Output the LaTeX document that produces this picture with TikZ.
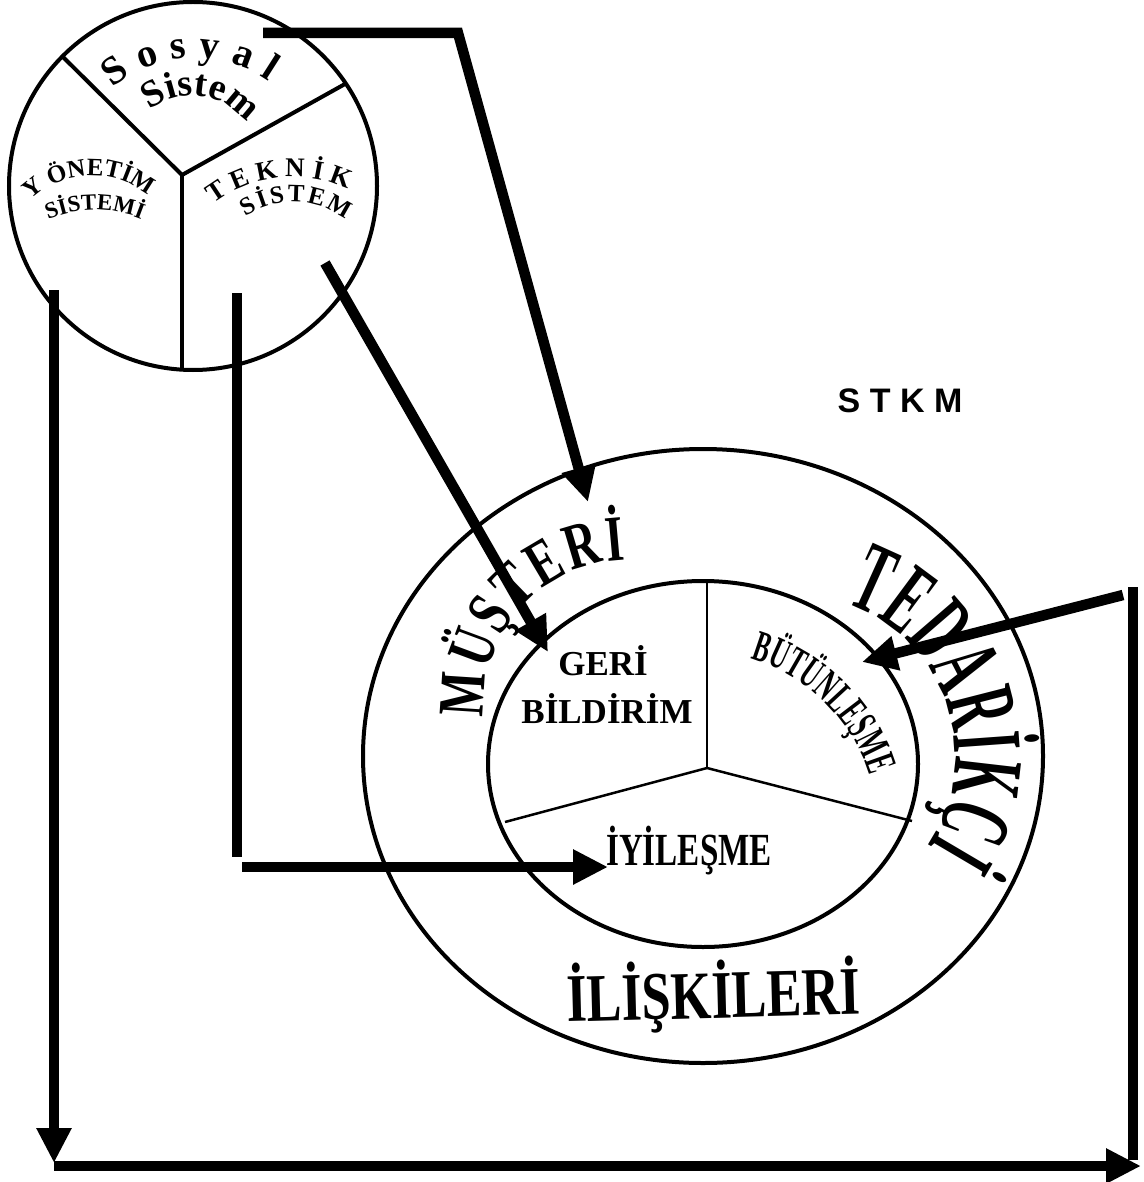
\documentclass[tikz,border=0pt]{standalone}
\usepackage{fontspec}
\setmainfont{Liberation Serif}
\newfontfamily\sansb{Liberation Sans}
\newfontfamily\stA[FakeStretch=0.5]{Liberation Serif}
\newfontfamily\stB[FakeStretch=0.72]{Liberation Serif}
\newfontfamily\stC[FakeStretch=0.77]{Liberation Serif}
\newfontfamily\stD[FakeStretch=0.55]{Liberation Serif}
\newfontfamily\stE[FakeStretch=0.72]{Liberation Serif}
\usetikzlibrary{arrows.meta,decorations.text,calc}
\newcommand\fsz[1]{\fontsize{#1}{#1}\selectfont}
\tikzset{
  ring/.style={line width=4pt},
  divider/.style={line width=4pt},
  thindiv/.style={line width=2.5pt},
  bar/.style={line width=10.5pt},
  flow/.style={line width=10.5pt,-{Triangle[length=35pt,width=33pt]}},
  arctext/.style={decorate,decoration={text along path,text={#1},text align={fit to path}}}
}
\begin{document}
\begin{tikzpicture}[x=1pt,y=1pt]
\useasboundingbox (0,0) rectangle (1143,-1182);

% ---- small circle
\coordinate (sc) at (193,-186);
\draw[ring] (sc) circle[radius=184];
\coordinate (sj) at (182,-175);
\coordinate (sd1) at (62,-56);
\coordinate (sd2) at (345,-84);
\coordinate (sd3) at (182,-368);
\draw[divider] (sd1) -- (sj) -- (sd2);
\draw[divider] (sj) -- (sd3);

% ---- big ellipses
\coordinate (oc) at (703,-756);
\draw[ring] (oc) ellipse[x radius=340,y radius=307];
\coordinate (ic) at (703,-764);
\draw[ring] (ic) ellipse[x radius=215,y radius=183];
\coordinate (ij) at (707,-768);
\coordinate (id1) at (707,-581);
\coordinate (id2) at (912,-821);
\coordinate (id3) at (505,-822);
\draw[thindiv] (ij) -- (id1);
\draw[thindiv] (ij) -- (id2);
\draw[thindiv] (ij) -- (id3);

% ---- connectors
\coordinate (a1s) at (263,-33);
\coordinate (a1c) at (458,-33);
\coordinate (a1e) at (588,-502);
\draw[flow,line join=miter] (a1s) -- (a1c) -- (a1e);
\coordinate (a2s) at (325,-263);
\coordinate (a2e) at (548,-652);
\draw[flow] (a2s) -- (a2e);
\coordinate (a3s) at (237,-293);
\coordinate (a3b) at (237,-857);
\draw[bar] (a3s) -- (a3b);
\coordinate (a3h) at (242,-867);
\coordinate (a3e) at (608,-867);
\draw[flow] (a3h) -- (a3e);
\coordinate (a4s) at (1123,-595);
\coordinate (a4e) at (862,-662);
\draw[flow] (a4s) -- (a4e);
\coordinate (rvs) at (1133,-587);
\coordinate (rve) at (1133,-1160);
\draw[bar] (rvs) -- (rve);
\coordinate (lvs) at (54,-290);
\coordinate (lve) at (54,-1163);
\draw[flow] (lvs) -- (lve);
\coordinate (bs) at (54,-1166);
\coordinate (be) at (1141,-1166);
\draw[flow] (bs) -- (be);

% ---- texts in small circle
\coordinate (tc1) at (195,-186);
\path[arctext={|\bfseries\fsz{40}|S o s y a l}] ($(tc1)+(130:128)$) arc[start angle=130,end angle=55,radius=128];
\coordinate (tc2) at (192,-163);
\path[arctext={|\bfseries\fsz{38}|Sistem}] ($(tc2)+(128.4:67)$) arc[start angle=128.4,end angle=42.8,radius=67];
\coordinate (tc3) at (92,-263);
\path[arctext={|\bfseries\fsz{25}|Y ÖNETİM}] ($(tc3)+(134:87.5)$) arc[start angle=134,end angle=55,radius=87.5];
\coordinate (tc4) at (95,-330);
\path[arctext={|\bfseries\fsz{23}|SİSTEMİ}] ($(tc4)+(113:120)$) arc[start angle=113,end angle=68.5,radius=120];
\coordinate (tc5) at (293,-308);
\path[arctext={|\bfseries\fsz{27}|T E K N İ K}] ($(tc5)+(127.5:131)$) arc[start angle=127.5,end angle=65,radius=131];
\coordinate (tc6) at (293,-288);
\path[arctext={|\bfseries\fsz{25}|SİSTEM}] ($(tc6)+(123.5:86)$) arc[start angle=123.5,end angle=52.5,radius=86];

% ---- texts in big ellipse
\coordinate (tc7) at (629,-705);
\path[arctext={|\stB\bfseries\fsz{65}|MÜŞTERİ}] ($(tc7)+(185:145)$) arc[start angle=185,end angle=91.5,radius=145];
\coordinate (tc8) at (794,-756);
\path[arctext={|\stA\bfseries\fsz{100}|TEDARİKÇİ}] ($(tc8)+(71.6:161)$) arc[start angle=71.6,end angle=-34,radius=161];
\coordinate (tc9) at (702,-827);
\path[arctext={|\stD\bfseries\fsz{44}|BÜTÜNLEŞME}] ($(tc9)+(74:175)$) arc[start angle=74,end angle=17,radius=175];

\node[font=\bfseries\fsz{35},anchor=base,inner sep=0pt] (geri) at (603,-675) {GERİ};
\node[font=\bfseries\fsz{35},anchor=base,inner sep=0pt] (bild) at (607,-723) {BİLDİRİM};
\node[font=\stE\bfseries\fsz{46},anchor=base,inner sep=0pt] (iyi) at (689,-865) {İYİLEŞME};
\node[font=\stC\bfseries\fsz{68},anchor=base,inner sep=0pt,rotate=1.5] (ilis) at (714,-1018) {İLİŞKİLERİ};
\node[font=\sansb\bfseries\fsz{34},inner sep=0pt] (stkm) at (900,-401) {S T K M};
\end{tikzpicture}
\end{document}
